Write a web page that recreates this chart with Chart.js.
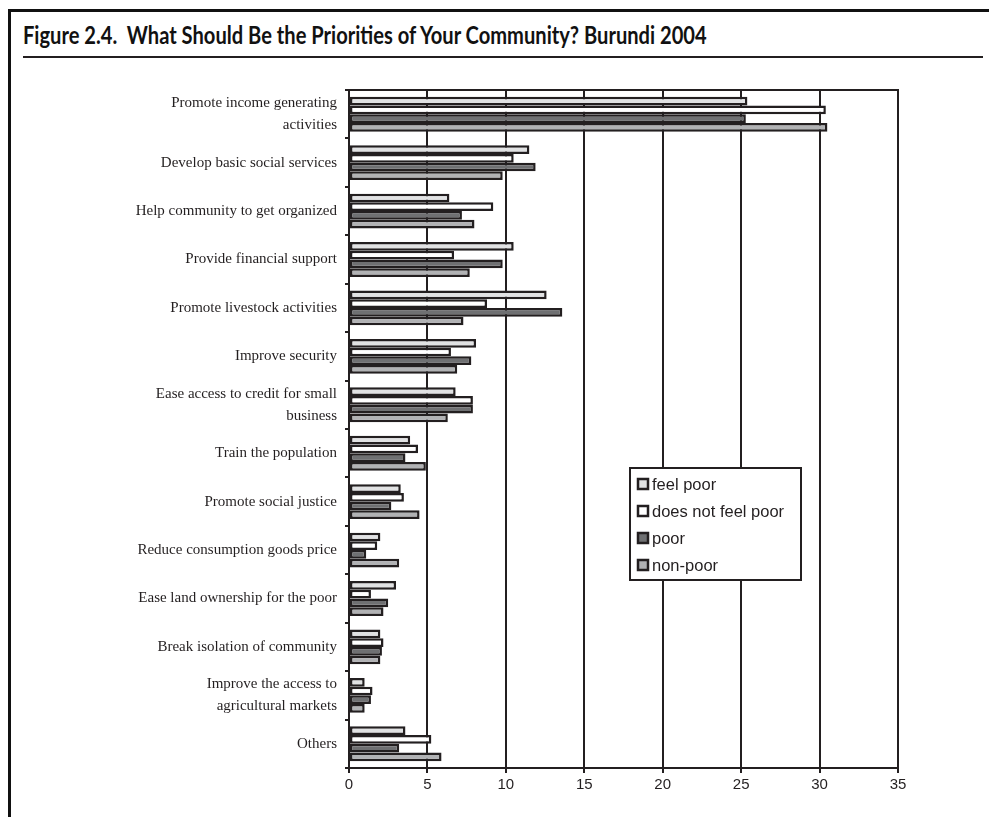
<!DOCTYPE html>
<html>
<head>
<meta charset="utf-8">
<script src="https://cdn.jsdelivr.net/npm/chart.js@4/dist/chart.umd.min.js"></script>
<style>
  body { margin: 0; background: #fff; }
  #frame { position: absolute; left: 0; top: 0; width: 989px; height: 817px; overflow: hidden; }
  #topline { position: absolute; left: 8px; top: 9px; width: 981px; height: 3px; background: #111; }
  #leftline { position: absolute; left: 8px; top: 9px; width: 3px; height: 808px; background: #111; }
  #title { position: absolute; left: 23px; top: 20px; font-family: Lato, "DejaVu Sans"; font-weight: bold; font-size: 24px; color: #111; white-space: pre; transform-origin: 0 0; }
  #underline { position: absolute; left: 23px; top: 56px; width: 960px; height: 2px; background: #231f20; }
  #wrap { position: absolute; left: 0; top: 0; width: 989px; height: 817px; }
</style>
</head>
<body>
<div id="frame">
  <div id="topline"></div>
  <div id="leftline"></div>
  <div id="title">Figure 2.4.  What Should Be the Priorities of Your Community? Burundi 2004</div>
  <div id="underline"></div>
  <div id="wrap"><canvas id="myChart"></canvas></div>
</div>
<script>
// categories (top to bottom)
var priorities = [
  ['Promote income generating', 'activities'],
  'Develop basic social services',
  'Help community to get organized',
  'Provide financial support',
  'Promote livestock activities',
  'Improve security',
  ['Ease access to credit for small', 'business'],
  'Train the population',
  'Promote social justice',
  'Reduce consumption goods price',
  'Ease land ownership for the poor',
  'Break isolation of community',
  ['Improve the access to', 'agricultural markets'],
  'Others'
];

var feelPoor     = [25.4, 11.5, 6.4, 10.5, 12.6, 8.1, 6.8, 3.9, 3.3, 2.0, 3.0, 2.0, 1.0, 3.6];
var notFeelPoor  = [30.4, 10.5, 9.2, 6.7, 8.8, 6.5, 7.9, 4.4, 3.5, 1.8, 1.4, 2.2, 1.5, 5.25];
var poor         = [25.3, 11.9, 7.2, 9.8, 13.6, 7.8, 7.9, 3.6, 2.7, 1.1, 2.5, 2.1, 1.4, 3.2];
var nonPoor      = [30.5, 9.8, 8.0, 7.7, 7.3, 6.9, 6.3, 4.9, 4.5, 3.2, 2.2, 2.0, 1.0, 5.9];

var seriesNames = ['feel poor', 'does not feel poor', 'poor', 'non-poor'];
var xTicks = [0, 5, 10, 15, 20, 25, 30, 35];

var dark = '#231f20';
var fills = ['#e1e2e3', '#ffffff', '#6f7072', '#b1b2b4'];

// squeeze the title to the width it has in the original
var t = document.getElementById('title');
t.style.transform = 'scaleX(' + (684 / t.offsetWidth) + ')';

// legend box drawn inside the plot, like the original
var boxLegend = {
  id: 'boxLegend',
  afterDraw: function(chart) {
    var c = chart.ctx;
    var x0 = 630, y0 = 468, w = 171, h = 112;
    c.save();
    c.fillStyle = '#fff';
    c.fillRect(x0, y0, w, h);
    c.strokeStyle = dark;
    c.lineWidth = 2;
    c.strokeRect(x0, y0, w, h);
    c.font = '16.5px "Liberation Sans", Arial';
    c.textBaseline = 'middle';
    chart.data.datasets.forEach(function(ds, i) {
      var cy = y0 + 16 + i * 27;
      c.fillStyle = ds.backgroundColor;
      c.fillRect(638, cy - 5, 10, 10);
      c.lineWidth = 2.5;
      c.strokeRect(638, cy - 5, 10, 10);
      c.fillStyle = '#231f20';
      c.fillText(ds.label, 652, cy + 1);
    });
    c.restore();
  }
};

var ctx = document.getElementById('myChart');
var myChart = new Chart(ctx, {
  type: 'bar',
  data: {
    labels: priorities,
    datasets: [feelPoor, notFeelPoor, poor, nonPoor].map(function(d, i) {
      return {
        label: seriesNames[i],
        data: d,
        backgroundColor: fills[i],
        borderColor: dark,
        borderWidth: 2.5,
        borderSkipped: false,
        categoryPercentage: 0.72,
        barPercentage: 1.0
      };
    })
  },
  options: {
    indexAxis: 'y',
    responsive: true,
    maintainAspectRatio: false,
    animation: false,
    layout: { padding: { top: 90, right: 91, left: 0, bottom: 0 } },
    plugins: { legend: { display: false }, tooltip: { enabled: false } },
    scales: {
      x: {
        min: 0, max: 35,
        afterBuildTicks: function(s) { s.ticks = xTicks.map(function(v) { return { value: v }; }); },
        afterFit: function(s) { s.height = 49; },
        grid: { color: dark, lineWidth: 2, tickLength: 5, tickColor: dark },
        border: { color: dark, width: 2 },
        ticks: { color: '#231f20', font: { family: '"Liberation Sans", Arial', size: 15 }, padding: 3, maxRotation: 0 }
      },
      xTop: {
        position: 'top', min: 0, max: 35,
        grid: { display: false },
        border: { color: dark, width: 2 },
        ticks: { display: false },
        afterFit: function(s) { s.height = 0; }
      },
      y: {
        afterFit: function(s) { s.width = 349; },
        grid: { offset: true, drawOnChartArea: false, color: dark, lineWidth: 2, tickLength: 4 },
        border: { color: dark, width: 2 },
        ticks: { color: '#231f20', font: { family: '"Liberation Serif", "Times New Roman"', size: 15, lineHeight: 1.45 }, padding: 8, autoSkip: false }
      }
    }
  },
  plugins: [boxLegend]
});
</script>
</body>
</html>
